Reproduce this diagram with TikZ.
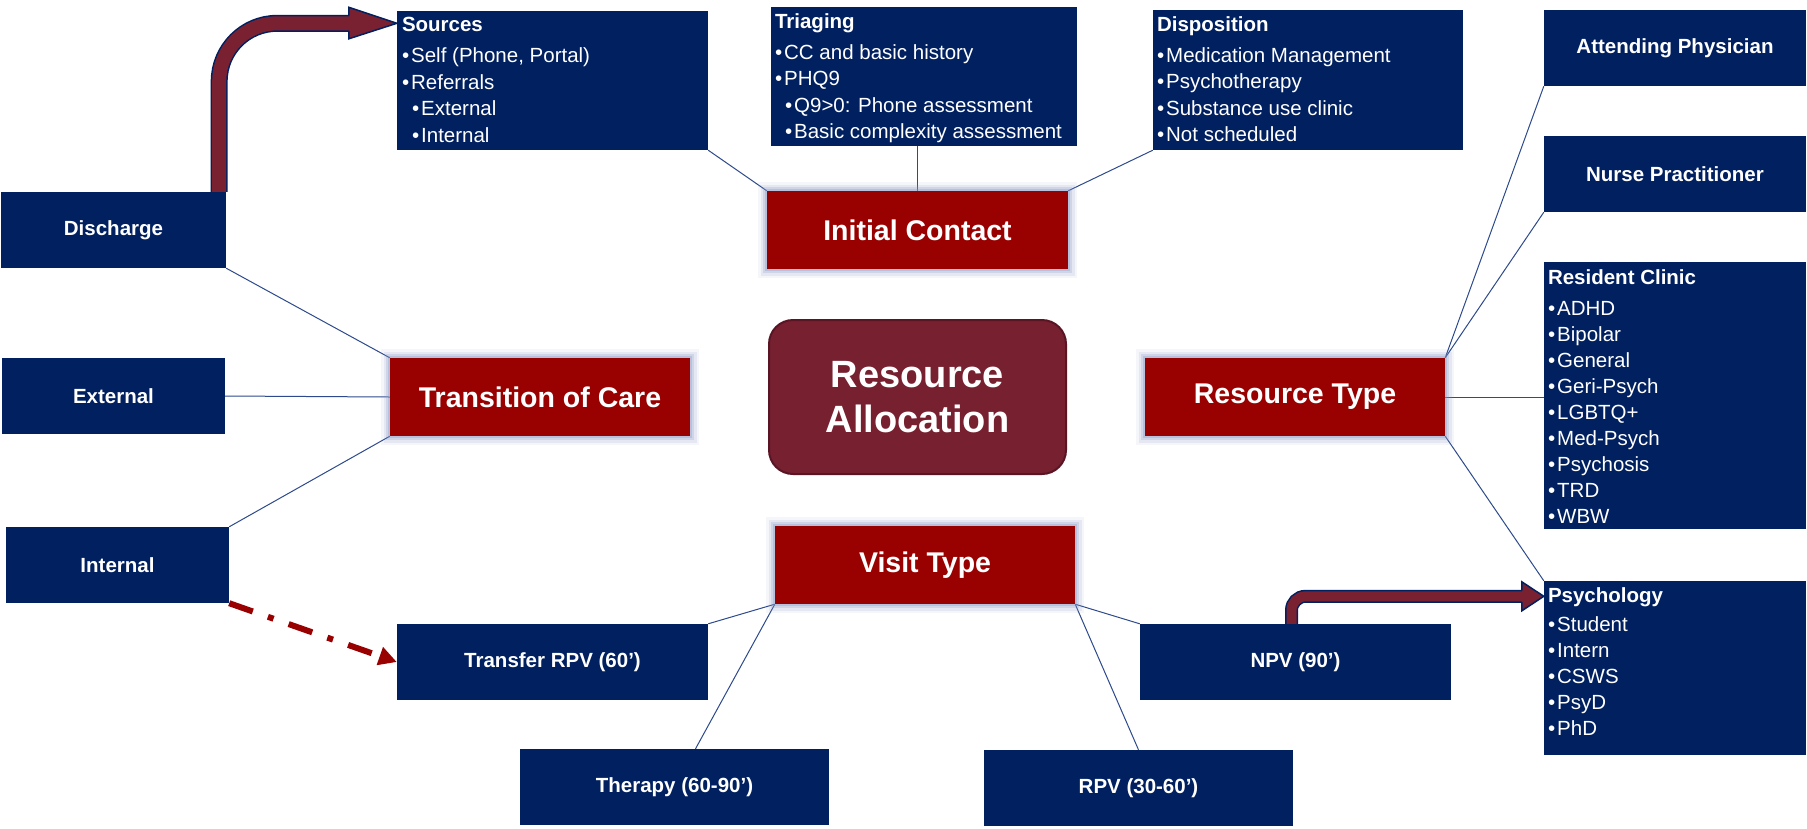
\documentclass[tikz,border=0pt]{standalone}
\usepackage{fontspec}
\setmainfont{Liberation Sans}
\usetikzlibrary{arrows.meta,calc}
\definecolor{navy}{HTML}{002060}
\definecolor{redbox}{HTML}{990000}
\definecolor{allocc}{HTML}{762030}
\definecolor{allocedge}{HTML}{5A1524}
\definecolor{connc}{HTML}{2E4A8C}
\definecolor{glowc}{HTML}{8496C4}
\definecolor{barrow}{HTML}{7A2131}
\newcommand\bl{•\kern2pt}
\pgfdeclarelayer{bg}
\pgfsetlayers{bg,main}
\tikzset{
  bx/.style 2 args={inner sep=0pt, minimum width=#1pt, minimum height=#2pt},
  bluebox/.style={fill=navy, text=white, font=\fontsize{20.5}{24}\selectfont\bfseries},
  glow/.style={preaction={draw=glowc, line width=18pt, opacity=0.08},
               preaction={draw=glowc, line width=13pt, opacity=0.14},
               preaction={draw=glowc, line width=8pt, opacity=0.22},
               preaction={draw=glowc, line width=4pt, opacity=0.3}},
  redb/.style={fill=redbox, text=white, font=\fontsize{28.5}{34}\selectfont\bfseries, glow},
  lst/.style={anchor=north west, inner sep=0pt, text=white, align=left,
              font=\fontsize{20.5}{26.5}\selectfont},
  lstr/.style={lst, font=\fontsize{20.5}{26}\selectfont},
  cline/.style={draw=connc, line width=1pt},
  dasharrow/.style={draw=redbox, line width=6pt, dash pattern=on 25pt off 16pt on 6pt off 16pt,
                    -{Triangle[length=18pt,width=18pt]}},
  shaft/.style={draw=navy, line width=1.5pt, double=barrow},
  headline/.style={draw=navy, line width=1.5pt, line join=miter},
}
\begin{document}
\begin{tikzpicture}[x=1pt,y=-1pt]
\useasboundingbox (0,0) rectangle (1807,828);

% top list boxes
\node[bx={311}{139}, fill=navy] (sources) at (552.5,80.5) {};
\node[lst] (sourcesT) at ([shift={(5,6.5)}]sources.north west)
  {\textbf{Sources}\\[4.5pt]\bl Self (Phone, Portal)\\\bl Referrals\\\hspace*{10pt}\bl External\\\hspace*{10pt}\bl Internal};
\node[bx={306}{139}, fill=navy] (triaging) at (924,76.5) {};
\node[lst] (triagingT) at ([shift={(4,6.5)}]triaging.north west)
  {\textbf{Triaging}\\[4.5pt]\bl CC and basic history\\\bl PHQ9\\\hspace*{10pt}\bl Q9>0: Phone assessment\\\hspace*{10pt}\bl Basic complexity assessment};
\node[bx={310}{140}, fill=navy] (disposition) at (1308,80) {};
\node[lst] (dispositionT) at ([shift={(4,7)}]disposition.north west)
  {\textbf{Disposition}\\[4pt]\bl Medication Management\\\bl Psychotherapy\\\bl Substance use clinic\\\bl Not scheduled};

% right column
\node[bx={262}{76}, bluebox] (attending) at (1675,48) {Attending Physician};
\node[bx={262}{76}, bluebox] (nurse) at (1675,174) {Nurse Practitioner};
\node[bx={262}{267}, fill=navy] (resident) at (1675,395.5) {};
\node[lstr] (residentT) at ([shift={(4,7.5)}]resident.north west)
  {\textbf{Resident Clinic}\\[5pt]\bl ADHD\\\bl Bipolar\\\bl General\\\bl Geri-Psych\\\bl LGBTQ+\\\bl Med-Psych\\\bl Psychosis\\\bl TRD\\\bl WBW};
\node[bx={262}{174}, fill=navy] (psychology) at (1675,668) {};
\node[lstr] (psychologyT) at ([shift={(4,6.5)}]psychology.north west)
  {\textbf{Psychology}\\[3.5pt]\bl Student\\\bl Intern\\\bl CSWS\\\bl PsyD\\\bl PhD};

% left column
\node[bx={225}{76}, bluebox] (discharge) at (113.5,230) {Discharge};
\node[bx={223}{76}, bluebox] (external) at (113.5,396) {External};
\node[bx={223}{76}, bluebox] (internal) at (117.5,565) {Internal};

% red hubs
\node[bx={301}{78}, redb] (initial) at (917.5,230) {Initial Contact};
\node[bx={300}{78}, redb] (toc) at (540,397) {Transition of Care};
\node[bx={300}{78}, redb] (rtype) at (1295,397) {Resource Type};
\node[bx={300}{78}, redb] (visit) at (925,565) {Visit Type};

% centre
\node[bx={297}{154}, fill=allocc, draw=allocedge, line width=2pt, rounded corners=24pt,
      text=white, align=center, font=\fontsize{38}{45}\selectfont\bfseries] (alloc) at (917.5,397) {Resource\\Allocation};

% bottom visit boxes
\node[bx={311}{76}, bluebox] (transfer) at (552.5,662) {Transfer RPV (60’)};
\node[bx={309}{76}, bluebox] (therapy) at (674.5,787) {Therapy (60-90’)};
\node[bx={309}{76}, bluebox] (rpv) at (1138.5,788) {RPV (30-60’)};
\node[bx={311}{76}, bluebox] (npv) at (1295.5,662) {NPV (90’)};

% connectors
\begin{pgfonlayer}{bg}
\fill[white] (0,0) rectangle (1807,828);
\draw[cline] (sources.south east) -- (initial.north west);
\draw[cline] (triaging.south -| initial.north) -- (initial.north);
\draw[cline] (disposition.south west) -- (initial.north east);
\draw[cline] (discharge.south east) -- (toc.north west);
\draw[cline] (external.east) -- (toc.west);
\draw[cline] (internal.north east) -- (toc.south west);
\draw[cline] (rtype.north east) -- (attending.south west);
\draw[cline] (rtype.north east) -- (nurse.south west);
\draw[cline] (rtype.east) -- (rtype.east -| resident.west);
\draw[cline] (rtype.south east) -- (psychology.north west);
\draw[cline] (visit.south west) -- (transfer.north east);
\draw[cline] (visit.south west) -- ([xshift=21pt]therapy.north);
\draw[cline] (visit.south east) -- (npv.north west);
\draw[cline] (visit.south east) -- (rpv.north);
\end{pgfonlayer}

% dashed arrow
\draw[dasharrow] (internal.south east) -- (transfer.west);

% block arrow: Discharge -> Sources
\draw[shaft, double distance=14pt, rounded corners=58pt]
  ([xshift=-7pt]discharge.north east) |- ($(sources.north west)+(-47,12.5)$);
\fill[barrow] ($(sources.north west)+(0,12.5)$) -- ($(sources.north west)+(-48,-3.5)$)
  -- ($(sources.north west)+(-48,28)$) -- cycle;
\draw[headline] ($(sources.north west)+(-48,4.75)$) -- ($(sources.north west)+(-48,-3.5)$)
  -- ($(sources.north west)+(0,12.5)$) -- ($(sources.north west)+(-48,28)$)
  -- ($(sources.north west)+(-48,20.25)$);

% block arrow: NPV -> Psychology
\draw[shaft, double distance=10pt, rounded corners=14pt]
  ([xshift=-4pt]npv.north) |- ($(psychology.north west)+(-21,15.5)$);
\fill[barrow] ($(psychology.north west)+(0,15.5)$) -- ($(psychology.north west)+(-22,1)$)
  -- ($(psychology.north west)+(-22,30)$) -- cycle;
\draw[headline] ($(psychology.north west)+(-22,9.75)$) -- ($(psychology.north west)+(-22,1)$)
  -- ($(psychology.north west)+(0,15.5)$) -- ($(psychology.north west)+(-22,30)$)
  -- ($(psychology.north west)+(-22,21.25)$);
\end{tikzpicture}
\end{document}
